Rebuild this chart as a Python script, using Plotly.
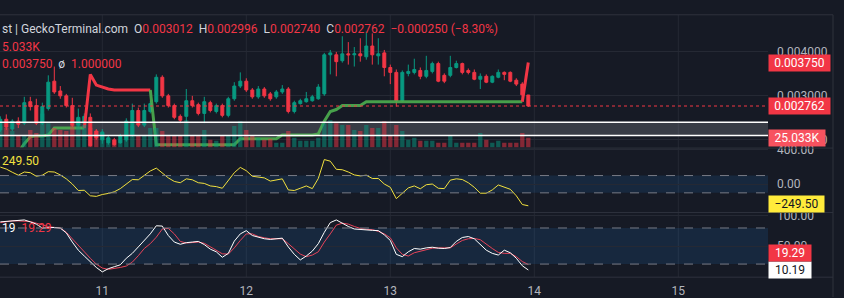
import plotly.graph_objects as go
import pandas as pd

# ---------------- data ----------------
START = "2024-05-10 07:00"   # first hourly candle
opens = [0.002216,0.002460,0.002238,0.002416,0.002371,0.002860,0.002771,0.002371,0.002704,0.003327,0.003104,0.002993,0.002771,0.002327,0.002371,0.002504,0.002193,
         0.001993,0.001927,0.001993,0.001927,0.001993,0.002104,0.002660,0.002327,0.002638,0.002860,
         0.003416,0.002993,0.002771,0.002527,0.002527,0.002882,0.002793,0.002593,0.002838,0.002638,
         0.002771,0.002549,0.002927,0.003216,0.003327,0.003127,0.002971,0.003149,0.003038,0.002971,
         0.003082,0.003149,0.002638,0.002816,0.002860,0.002882,0.002927,0.003038,0.003927,0.003927,
         0.003793,0.003949,0.003927,0.003949,0.003882,0.004127,0.003904,0.003971,0.003638,0.003527,
         0.002882,0.003504,0.003527,0.003571,0.003438,0.003549,0.003727,0.003460,0.003460,0.003638,
         0.003727,0.003571,0.003527,0.003371,0.003438,0.003304,0.003416,0.003527,0.003527,0.003349,
         0.003260,0.003012]
highs = [0.002527,0.002571,0.002460,0.002504,0.002971,0.002971,0.002927,0.002838,0.003460,0.003660,0.003216,0.003038,0.002949,0.002704,0.002593,0.002593,0.002238,
         0.002238,0.002082,0.002038,0.002127,0.002482,0.002816,0.002727,0.002816,0.002882,0.003482,
         0.003460,0.003038,0.002816,0.002571,0.003149,0.002993,0.002838,0.002971,0.002882,0.002816,
         0.002816,0.002971,0.003304,0.003527,0.003393,0.003171,0.003216,0.003193,0.003082,0.003127,
         0.003238,0.003193,0.002882,0.002927,0.003082,0.003016,0.003260,0.003971,0.004038,0.003993,
         0.004349,0.004216,0.004104,0.004304,0.004460,0.004416,0.004304,0.004038,0.003704,0.003593,
         0.003571,0.003704,0.003838,0.003638,0.003904,0.003771,0.003771,0.003504,0.003904,0.003793,
         0.003749,0.003616,0.003593,0.003504,0.003482,0.003460,0.003593,0.003549,0.003549,0.003393,
         0.003304,0.002996]
lows = [0.002171,0.002216,0.002193,0.002260,0.002327,0.002660,0.002327,0.002327,0.002660,0.003038,0.002927,0.002727,0.002282,0.002260,0.002327,0.001838,0.001993,
        0.001904,0.001882,0.001860,0.001904,0.001949,0.002060,0.002282,0.002282,0.002593,0.002816,
        0.002949,0.002727,0.002460,0.002371,0.002371,0.002727,0.002549,0.002371,0.002616,0.002593,
        0.002504,0.002504,0.002882,0.003171,0.003082,0.002927,0.002927,0.002949,0.002882,0.002927,
        0.003038,0.002593,0.002593,0.002793,0.002838,0.002860,0.002904,0.002993,0.003482,0.003438,
        0.003749,0.003704,0.003660,0.003771,0.003816,0.003704,0.003704,0.003438,0.003260,0.002749,
        0.002860,0.003438,0.003482,0.003371,0.003393,0.003504,0.003304,0.003282,0.003416,0.003616,
        0.003482,0.003482,0.003349,0.003149,0.003282,0.003282,0.003393,0.003349,0.003304,0.003216,
        0.002927,0.002740]
closes = [0.002460,0.002282,0.002416,0.002349,0.002838,0.002749,0.002371,0.002749,0.003304,0.003082,0.002993,0.002771,0.002327,0.002504,0.002527,0.001860,0.002038,
          0.002171,0.002038,0.001882,0.002082,0.002416,0.002660,0.002327,0.002660,0.002816,0.003416,
          0.002993,0.002771,0.002504,0.002438,0.002882,0.002771,0.002593,0.002860,0.002660,0.002771,
          0.002549,0.002927,0.003216,0.003327,0.003127,0.002971,0.003149,0.002993,0.002927,0.003082,
          0.003149,0.002638,0.002838,0.002882,0.002927,0.002971,0.003193,0.003927,0.003971,0.003771,
          0.003949,0.003927,0.003949,0.003904,0.004127,0.003927,0.003949,0.003638,0.003527,0.002882,
          0.003527,0.003549,0.003593,0.003438,0.003571,0.003727,0.003327,0.003327,0.003638,0.003727,
          0.003527,0.003527,0.003371,0.003438,0.003304,0.003438,0.003527,0.003482,0.003327,0.003260,
          0.003016,0.002762]
volumes_k = [55.1,50.1,42.6,32.5,30.0,45.1,37.5,87.6,62.6,50.1,45.1,42.6,57.6,75.1,57.6,50.1,42.6,
             37.5,25.0,20.0,20.0,45.1,55.1,32.5,32.5,50.1,50.1,
             42.6,32.5,32.5,30.0,70.1,32.5,30.0,45.1,20.0,17.5,
             30.0,32.5,55.1,67.6,45.1,30.0,25.0,20.0,22.5,12.5,
             12.5,42.6,25.0,17.5,17.5,17.5,25.0,62.6,70.1,62.6,
             57.6,57.6,45.1,42.6,57.6,50.1,50.1,67.6,32.5,57.6,
             42.6,20.0,25.0,17.5,17.5,17.5,12.5,12.5,30.0,12.5,
             12.5,12.5,12.5,37.5,20.0,12.5,17.5,12.5,12.5,12.5,
             37.5,25.033]
# trailing stop line (value, direction: 1 = up/green, -1 = down/red, 0 = none)
stop_values = [None,None,None,0.001704,0.001904,0.002060,0.002082,0.002082,0.002104,0.002260,0.002260,0.002260,0.002260,0.002260,0.002260,
               0.003482,0.003238,0.003193,0.003149,0.003127,0.003127,0.003127,0.003127,0.003127,0.003127,0.003127,
               0.001882,0.001882,0.001882,0.001882,0.001882,0.001882,0.001882,0.001882,0.001882,0.001882,0.001882,0.001882,0.001882,0.001882,
               0.002016,0.002016,0.002016,0.002016,0.002016,0.002016,0.002016,
               0.002104,0.002104,0.002104,0.002104,0.002104,0.002104,
               0.002127,0.002416,0.002638,0.002682,0.002771,0.002771,0.002771,0.002771,
               0.002860,0.002860,0.002860,0.002860,0.002860,0.002860,0.002860,0.002860,0.002860,0.002860,
               0.002860,0.002860,0.002860,0.002860,0.002860,0.002860,0.002860,0.002860,0.002860,0.002860,
               0.002860,0.002860,0.002860,0.002860,0.002860,0.002860,0.002860,
               0.003750]
stop_dirs = [0,0,0,1,1,1,1,1,1,1,1,1,1,1,1,
             -1,-1,-1,-1,-1,-1,-1,-1,-1,-1,-1,
             1,1,1,1,1,1,1,1,1,1,1,1,1,1,
             1,1,1,1,1,1,1,
             1,1,1,1,1,1,
             1,1,1,1,1,1,1,1,
             1,1,1,1,1,1,1,1,1,1,
             1,1,1,1,1,1,1,1,1,1,
             1,1,1,1,1,1,1,
             -1]
cci = [198,175,138,104,141,133,92,104,145,141,107,62,2,-73,-70,-134,-141,
       -119,-107,-88,-51,2,54,51,107,153,186,
       130,73,32,17,62,51,17,9,-20,-28,
       -47,47,133,194,156,92,85,73,36,47,
       62,-66,-73,-47,-20,-51,66,285,266,172,
       167,141,107,96,104,66,66,2,-36,-167,
       -104,-43,-20,-53,-6,2,-47,-51,47,62,
       54,17,-36,-104,-104,-66,-9,-32,-59,-134,
       -235,-249.5]
stoch_k = [90.2,91.3,92.3,92.9,93.4,90.2,86.4,79.9,80.4,80.9,79.9,71.8,56.6,43.1,33.4,24.2,14.4,
           7.0,12.3,15.6,18.8,29.7,37.8,48.5,59.3,70.2,83.7,
           83.2,67.5,56.6,52.9,55.6,56.6,57.7,52.4,44.8,40.4,
           31.3,37.8,58.2,70.2,75.6,67.5,64.2,62.1,61.0,61.5,
           63.1,48.5,36.2,26.9,33.4,41.5,54.0,72.8,89.0,93.4,
           87.4,82.5,78.3,77.2,76.7,76.1,75.6,68.6,59.3,36.2,
           32.3,40.4,45.9,44.8,46.9,48.0,46.4,45.9,47.5,57.7,
           64.2,65.8,62.1,52.4,43.1,37.8,35.0,43.1,38.8,29.7,
           17.2,10.19]
stoch_d = [89.0,90.6,91.8,91.8,91.8,90.6,88.0,84.8,82.5,80.9,79.9,72.8,62.1,49.6,40.4,29.7,19.9,
           13.4,11.2,12.3,14.4,16.7,23.2,33.9,45.9,54.0,64.7,
           78.3,79.3,70.2,57.7,55.0,55.6,56.6,54.5,48.5,43.1,
           37.1,36.6,46.9,59.3,70.2,70.2,65.8,63.7,62.1,62.1,
           62.1,54.0,45.9,36.6,32.3,35.0,40.4,56.6,70.2,84.8,
           88.0,86.4,82.5,79.3,77.7,77.2,74.4,70.2,63.7,46.9,
           36.2,33.4,38.8,41.5,44.8,46.4,46.9,46.9,46.9,53.4,
           59.3,62.1,62.6,60.5,52.4,45.9,39.4,37.8,37.8,32.3,
           24.2,19.29]
day_ticks = ["2024-05-11", "2024-05-12", "2024-05-13", "2024-05-14", "2024-05-15"]
day_labels = ["11", "12", "13", "14", "15"]
zone_low, zone_high = 0.002089, 0.002393      # grey drawn zone
cci_levels = (-100, 100)
stoch_levels = (20, 80)
last_price, last_stop, last_vol_k = 0.002762, 0.003750, 25.033
last_cci, last_k, last_d = -249.50, 10.19, 19.29

# ---------------- style ----------------
BG = "#161a25"
GRID = "#252934"
SEP = "#2e323d"
GREEN = "#089981"
RED = "#f23645"
TXT = "#b2b5be"
FONT = "Roboto"
H = 298.0

def py(px):  # pixel row -> paper y
    return 1 - px / H

times = pd.date_range(START, periods=len(opens), freq="h")
fig = go.Figure()

# volume
vcol = ["rgba(8,153,129,0.5)" if c >= o else "rgba(242,54,69,0.5)" for o, c in zip(opens, closes)]
fig.add_trace(go.Bar(x=times, y=volumes_k, marker=dict(color=vcol, line=dict(width=0)),
                     width=3600000 * 0.72, yaxis="y2", hoverinfo="skip"))

# candles
fig.add_trace(go.Candlestick(x=times, open=opens, high=highs, low=lows, close=closes,
                             increasing=dict(line=dict(color=GREEN, width=1), fillcolor=GREEN),
                             decreasing=dict(line=dict(color=RED, width=1), fillcolor=RED),
                             whiskerwidth=0, yaxis="y"))

# trailing stop line, coloured by direction
segs = []
cur = None
for i in range(1, len(times)):
    if stop_values[i] is None or stop_values[i - 1] is None:
        continue
    d = stop_dirs[i]
    if cur is not None and cur["d"] == d and cur["end"] == i - 1:
        cur["x"].append(times[i]); cur["y"].append(stop_values[i]); cur["end"] = i
    else:
        cur = {"d": d, "x": [times[i - 1], times[i]], "y": [stop_values[i - 1], stop_values[i]], "end": i}
        segs.append(cur)
for s in segs:
    fig.add_trace(go.Scatter(x=s["x"], y=s["y"], mode="lines", yaxis="y",
                             line=dict(color="rgba(76,175,80,0.9)" if s["d"] > 0 else RED, width=3),
                             hoverinfo="skip"))

# CCI
fig.add_trace(go.Scatter(x=times, y=cci, mode="lines", yaxis="y3",
                         line=dict(color="#f2e13f", width=1), hoverinfo="skip"))
# Stochastic
fig.add_trace(go.Scatter(x=times, y=stoch_d, mode="lines", yaxis="y4",
                         line=dict(color="#e8445a", width=1), hoverinfo="skip"))
fig.add_trace(go.Scatter(x=times, y=stoch_k, mode="lines", yaxis="y4",
                         line=dict(color="#ffffff", width=1), hoverinfo="skip"))

day0 = pd.Timestamp(day_ticks[0])
x_left = day0 - pd.Timedelta(hours=17.05)
x_right = day0 + pd.Timedelta(hours=110.95)

P1 = (9, 145)
P2 = (146, 211)
P3 = (212, 277.7)

axis_common = dict(side="right", showline=False, zeroline=False, ticks="",
                   gridcolor=GRID, gridwidth=1, tickfont=dict(family=FONT, size=12, color=TXT),
                   ticklabelstandoff=8, fixedrange=True)
fig.update_layout(
    width=844, height=298, paper_bgcolor=BG, plot_bgcolor=BG,
    margin=dict(l=0, r=76, t=0, b=0), showlegend=False,
    xaxis=dict(type="date", range=[x_left, x_right], anchor="y4", showgrid=False,
               zeroline=False, showline=False, ticks="", tickvals=day_ticks, ticktext=day_labels,
               tickfont=dict(family=FONT, size=12, color=TXT), rangeslider=dict(visible=False),
               ticklabelstandoff=5),
    yaxis=dict(domain=[py(P1[1]), py(P1[0])], range=[0.0018156, 0.0048378],
               tickvals=[0.004, 0.003, 0.002], ticktext=["0.004000", "0.003000", "0.002000"], **axis_common),
    yaxis2=dict(overlaying="y", range=[0, 340.4], visible=False, fixedrange=True),
    yaxis3=dict(domain=[py(P2[1]), py(P2[0])], range=[-322, 412], anchor="x",
                tickvals=[400, 0], ticktext=["400.00", "0.00"], **axis_common),
    yaxis4=dict(domain=[py(P3[1]), py(P3[0])], range=[-1.8, 104.9], anchor="x",
                tickvals=[100, 50], ticktext=["100.00", "50.00"], **axis_common),
)

shapes = []
# vertical day grid lines
for d in day_ticks:
    shapes.append(dict(type="line", xref="x", yref="paper", x0=d, x1=d, y0=py(P3[1]), y1=py(P1[0]),
                       line=dict(color=GRID, width=1), layer="below"))
# pane separators / borders
for ypx in (9, 145.5, 211.5, 277.7):
    shapes.append(dict(type="line", xref="paper", yref="paper", x0=0, x1=833 / 768, y0=py(ypx), y1=py(ypx),
                       line=dict(color=SEP, width=1)))
shapes.append(dict(type="line", xref="paper", yref="paper", x0=833 / 768, x1=833 / 768, y0=0, y1=py(9),
                   line=dict(color=SEP, width=1)))
# grey zone with white borders
shapes.append(dict(type="rect", xref="paper", yref="y", x0=0, x1=1, y0=zone_low, y1=zone_high,
                   fillcolor="rgba(178,181,190,0.22)", line=dict(width=0), layer="below"))
for v in (zone_low, zone_high):
    shapes.append(dict(type="line", xref="paper", yref="y", x0=0, x1=1, y0=v, y1=v,
                       line=dict(color="#ffffff", width=1.5)))
# last price dotted line
shapes.append(dict(type="line", xref="paper", yref="y", x0=0, x1=1, y0=last_price, y1=last_price,
                   line=dict(color=RED, width=1, dash="dot")))
# indicator bands
shapes.append(dict(type="rect", xref="paper", yref="y3", x0=0, x1=1, y0=cci_levels[0], y1=cci_levels[1],
                   fillcolor="rgba(33,150,243,0.12)", line=dict(width=0), layer="below"))
shapes.append(dict(type="rect", xref="paper", yref="y4", x0=0, x1=1, y0=stoch_levels[0], y1=stoch_levels[1],
                   fillcolor="rgba(33,150,243,0.12)", line=dict(width=0), layer="below"))
for v in cci_levels:
    shapes.append(dict(type="line", xref="paper", yref="y3", x0=0, x1=1, y0=v, y1=v,
                       line=dict(color="#787b86", width=1, dash="dash")))
for v in stoch_levels:
    shapes.append(dict(type="line", xref="paper", yref="y4", x0=0, x1=1, y0=v, y1=v,
                       line=dict(color="#787b86", width=1, dash="dash")))
fig.update_layout(shapes=shapes)

NB = "\u00a0"
def c(t, col):
    return f"<span style='color:{col}'>{t}</span>"
LBL = "#d1d4dc"
header = (c("st | GeckoTerminal.com" + NB * 2 + "O", LBL) + c("0.003012", RED) + NB * 2 + c("H", LBL) + c("0.002996", RED)
          + NB * 2 + c("L", LBL) + c("0.002740", RED) + NB * 2 + c("C", LBL) + c("0.002762", RED)
          + NB * 2 + c("\u22120.000250 (\u22128.30%)", RED))
ann = [
    dict(text=header, x=0, y=py(24), xanchor="left", yanchor="middle"),
    dict(text=c("5.033K", RED), x=0, y=py(42), xanchor="left", yanchor="middle"),
    dict(text=c("0.003750", RED) + NB * 2 + c("\u00f8", LBL) + NB * 2 + c("1.000000", RED),
         x=0, y=py(59), xanchor="left", yanchor="middle"),
    dict(text=c("249.50", "#f2e13f"), x=0, y=py(159), xanchor="left", yanchor="middle"),
    dict(text=c("19", "#ffffff") + NB * 2 + c("19.29", RED), x=0, y=py(227), xanchor="left", yanchor="middle"),
]
for a in ann:
    a.update(xref="paper", yref="paper", showarrow=False, font=dict(family=FONT, size=12))
fig.update_layout(annotations=ann)

def badge(text, y, yref, bg, fg, width, yshift=0):
    fig.add_annotation(text=text, xref="paper", x=1, y=y, yref=yref, xanchor="left", yanchor="middle",
                       showarrow=False, bgcolor=bg, borderpad=1, width=width, align="center",
                       yshift=yshift, font=dict(family=FONT, size=12, color=fg))

badge(f"{last_stop:.6f}", last_stop, "y", RED, "#ffffff", 59)
badge(f"{last_price:.6f}", last_price, "y", RED, "#ffffff", 59)
badge(f"{last_vol_k:.3f}K", last_vol_k, "y2", "#f7525f", "#ffffff", 54)
badge(f"{last_cci:.2f}".replace("-", "\u2212"), last_cci, "y3", "#ffeb3b", "#131722", 53, yshift=2)
badge(f"{last_k:.2f}", last_k, "y4", "#ffffff", "#131722", 40)
badge(f"{last_d:.2f}", last_k, "y4", RED, "#ffffff", 40, yshift=16.5)

fig.write_html("out.html")
